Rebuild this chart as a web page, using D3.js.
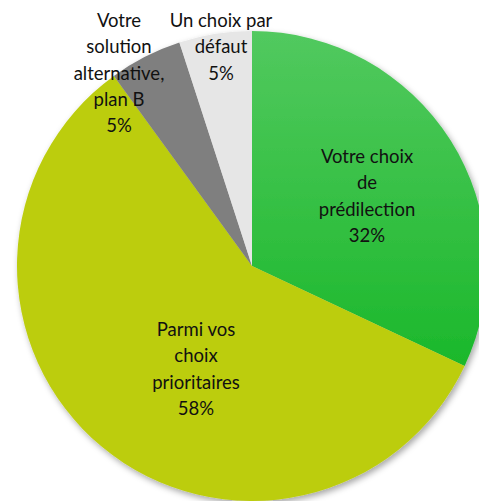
<!DOCTYPE html>
<html>
<head>
<meta charset="utf-8">
<script src="https://cdn.jsdelivr.net/npm/d3@7"></script>
<style>
  html, body { margin: 0; padding: 0; background: #fff; }
  #chart text { font-family: Lato, "Open Sans", sans-serif; font-size: 18.5px; fill: #111; }
</style>
</head>
<body>
<div id="chart"></div>
<script>
const width = 479;
const height = 501;

// slices, clockwise from 12 o'clock
const categories = ["Votre choix de prédilection", "Parmi vos choix prioritaires", "Votre solution alternative, plan B", "Un choix par défaut"];
const values = [32, 58, 5, 5];
const colors = ["url(#greenGrad)", "#bccd0d", "#7f7f7f", "#e6e6e6"];
// label lines, as wrapped in the picture
const labelLines = [
    ["Votre choix", "de", "prédilection"],
    ["Parmi vos", "choix", "prioritaires"],
    ["Votre", "solution", "alternative,", "plan B"],
    ["Un choix par", "défaut"]
];

const cx = 252, cy = 266, radius = 235;

const svg = d3.select("#chart").append("svg")
    .attr("width", width)
    .attr("height", height);

const defs = svg.append("defs");
// gradient coords are in the pie group's space (origin = pie centre)
const grad = defs.append("linearGradient")
    .attr("id", "greenGrad")
    .attr("gradientUnits", "userSpaceOnUse")
    .attr("x1", 0).attr("y1", -radius)
    .attr("x2", 0).attr("y2", 100);
grad.append("stop").attr("offset", "0%").attr("stop-color", "#52c95f");
grad.append("stop").attr("offset", "100%").attr("stop-color", "#1bb82b");

const shadow = defs.append("filter")
    .attr("id", "shadow")
    .attr("x", "-10%").attr("y", "-10%")
    .attr("width", "130%").attr("height", "130%");
shadow.append("feDropShadow")
    .attr("dx", 2).attr("dy", 3)
    .attr("stdDeviation", 3)
    .attr("flood-color", "#000")
    .attr("flood-opacity", 0.35);

const pie = d3.pie().sort(null).value(d => d);
const arc = d3.arc().innerRadius(0).outerRadius(radius);
const arcs = pie(values);

const g = svg.append("g").attr("transform", `translate(${cx},${cy})`);

g.append("g").attr("filter", "url(#shadow)")
    .selectAll("path")
    .data(arcs)
    .enter()
    .append("path")
    .attr("d", arc)
    .attr("fill", (d, i) => colors[i]);

// label anchors (centre x, first baseline y), relative to the pie centre
const labelPos = [
    [115, -103],
    [-56, 70],
    [-133, -239],
    [-31, -239]
];
const lineH = 26.3;

labelLines.forEach((lines, i) => {
    const t = svg.append("text")
        .attr("text-anchor", "middle")
        .attr("x", cx + labelPos[i][0])
        .attr("y", cy + labelPos[i][1]);
    lines.concat([values[i] + "%"]).forEach((s, j) => {
        t.append("tspan")
            .attr("x", cx + labelPos[i][0])
            .attr("dy", j === 0 ? 0 : lineH)
            .text(s);
    });
});
</script>
</body>
</html>
